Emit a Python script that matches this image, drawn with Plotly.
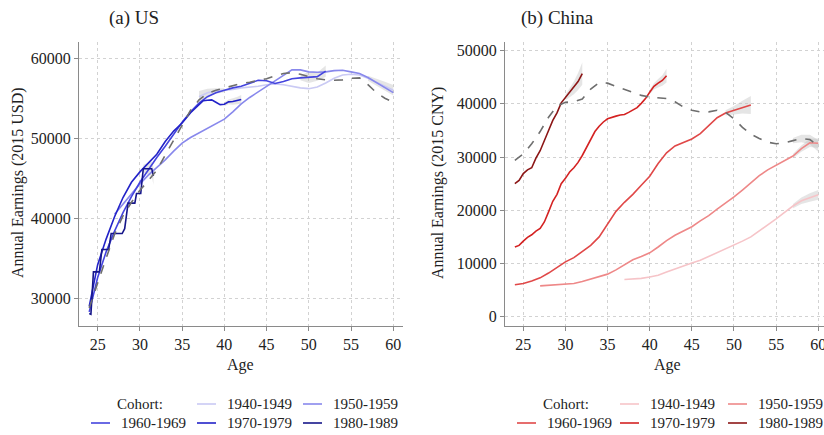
import plotly.graph_objects as go

W, H = 824, 435
FONT = "Liberation Serif"

def px(x):
    return x / W

def py(y):
    return 1 - y / H

# ---------------- Data: US (2015 USD) ----------------
cohorts = ["1940-1949", "1950-1959", "1960-1969", "1970-1979", "1980-1989"]

us_age_1940 = list(range(37, 61))
us_val_1940 = [55200, 55700, 55900, 56000, 56100, 56300, 56400, 56500, 56700, 56800, 56700, 56500,
               56300, 56200, 56400, 56900, 57500, 57900, 58000, 57900, 57500, 57000, 56500, 56000]

us_age_1950 = list(range(27, 61))
us_val_1950 = [40500, 41800, 43000, 44300, 45400, 46300, 47300, 48400, 49400, 50100, 50700, 51200,
               51800, 52400, 53300, 54300, 55100, 55800, 56400, 57100, 57900, 58550, 58550, 58300,
               58250, 58300, 58450, 58500, 58300, 58100, 57600, 57000, 56300, 55700]

us_age_1960 = list(range(24, 53))
us_val_1960 = [28300, 32600, 35800, 38400, 40700, 42700, 44500, 46100, 47600, 49000, 50500, 52000,
               53300, 54400, 55200, 55700, 56000, 56300, 56500, 56900, 57250, 57200, 56850, 57100,
               57450, 57550, 57600, 57700, 58400]

us_age_1970 = [24, 24.5, 25, 26, 27, 28, 29, 30, 31, 32, 33, 34, 35, 36, 37, 37.5, 38, 38.5, 39,
               39.5, 40, 40.5, 41, 41.5, 42]
us_val_1970 = [29000, 31800, 34200, 37400, 40200, 42600, 44500, 45800, 46900, 48000, 49600, 50900,
               51900, 53200, 54200, 54700, 54750, 54800, 54500, 54200, 54250, 54550, 54600, 54700,
               54850]

us_age_1980 = [24.0, 24.2, 24.5, 25.2, 25.5, 26.3, 26.6, 27.9, 28.2, 28.6, 29.4, 29.6, 30.1, 30.4,
               31.4, 31.6]
us_val_1980 = [28100, 28000, 33300, 33300, 36100, 36100, 38100, 38100, 38700, 41900, 41900, 43100,
               43100, 46200, 46200, 45300]

us_age_all = list(range(24, 61))
us_val_all = [28800, 32000, 35000, 38000, 40300, 42000, 43500, 44700, 46000, 47900, 49800, 51700,
              53500, 54800, 55600, 56000, 56300, 56600, 56850, 57000, 57200, 57450, 57800, 58100,
              58200, 58000, 57700, 57450, 57300, 57250, 57300, 57500, 57550, 56700, 55700, 55000,
              54500]

# ---------------- Data: China (2015 CNY) ----------------
cn_age_1940 = list(range(37, 61))
cn_val_1940 = [7000, 7050, 7200, 7450, 7800, 8400, 9000, 9600, 10100, 10600, 11300, 12000, 12700,
               13400, 14200, 15000, 16100, 17200, 18400, 19600, 20800, 21800, 22400, 22900]

cn_age_1950 = list(range(27, 61))
cn_val_1950 = [5800, 5900, 6000, 6100, 6250, 6600, 7100, 7500, 8000, 8800, 9800, 10700, 11300,
               12000, 13100, 14300, 15300, 16100, 16900, 18000, 19000, 20200, 21300, 22500, 23800,
               25200, 26500, 27600, 28500, 29300, 30200, 31600, 32700, 32600]

cn_age_1960 = list(range(24, 53))
cn_val_1960 = [6000, 6250, 6700, 7300, 8200, 9300, 10300, 11100, 12200, 13400, 15000, 17400, 19800,
               21500, 23000, 24700, 26400, 28800, 30800, 32100, 32700, 33400, 34400, 35900, 37400,
               38300, 38800, 39400, 39800]

cn_age_1970 = [24 + 0.5 * i for i in range(37)]
cn_val_1970 = [13100, 13400, 14200, 14900, 15400, 16100, 16600, 17800, 19700, 21700, 23000, 25000,
               26000, 27200, 28000, 29000, 30300, 31800, 33500, 34800, 35800, 36600, 37200, 37500,
               37700, 37900, 38000, 38400, 38800, 39300, 40100, 41000, 42200, 43300, 43900, 44400,
               45300]

cn_age_1980 = [24, 24.5, 25, 25.5, 26, 26.5, 27, 27.5, 28, 28.5, 29, 29.5, 30, 30.5, 31, 31.5, 32]
cn_val_1980 = [25000, 25600, 26900, 27600, 28000, 29800, 31200, 33300, 35000, 36900, 38300, 40200,
               41200, 42100, 43000, 44200, 45700]

cn_age_all = list(range(24, 61))
cn_val_all = [29400, 30600, 32500, 34800, 37500, 39600, 40300, 40400, 40900, 42800, 44000, 43900,
              43300, 42700, 42100, 41600, 41300, 41200, 41000, 40400, 39400, 38800, 38500, 38500,
              38800, 38400, 37200, 35600, 34300, 33500, 32800, 32500, 32700, 33100, 33500, 33300,
              32100]

# confidence band half-widths (visible tails only): ages, half-width
us_ci = {
    "1940-1949": ([37, 38, 39, 40], [700, 500, 350, 250]),
    "1940-1949b": ([57, 58, 59, 60], [300, 450, 550, 650]),
    "1960-1969": ([49, 50, 51, 52], [300, 700, 500, 700]),
    "1970-1979": ([40, 40.5, 41, 41.5, 42], [250, 300, 400, 450, 550]),
    "1980-1989": ([30.4, 31.4, 31.6], [500, 900, 1100]),
}
cn_ci = {
    "1940-1949": ([57, 58, 59, 60], [400, 600, 800, 900]),
    "1950-1959": ([57, 58, 59, 60], [400, 600, 800, 900]),
    "1960-1969": ([49, 50, 51, 52], [500, 800, 1200, 1700]),
    "1970-1979": ([40, 40.5, 41, 41.5, 42], [400, 600, 800, 1000, 1300]),
    "1980-1989": ([30, 30.5, 31, 31.5, 32], [500, 800, 1200, 1600, 2100]),
    "All": ([57, 58, 59, 60], [500, 700, 900, 1100]),
}

us_colors = ["#cacaf4", "#8888ec", "#4444de", "#2222c8", "#16168a"]
cn_colors = ["#f6c4c8", "#ee8888", "#e04848", "#d42222", "#8c1616"]

us_series = {
    "1940-1949": (us_age_1940, us_val_1940),
    "1950-1959": (us_age_1950, us_val_1950),
    "1960-1969": (us_age_1960, us_val_1960),
    "1970-1979": (us_age_1970, us_val_1970),
    "1980-1989": (us_age_1980, us_val_1980),
}
cn_series = {
    "1940-1949": (cn_age_1940, cn_val_1940),
    "1950-1959": (cn_age_1950, cn_val_1950),
    "1960-1969": (cn_age_1960, cn_val_1960),
    "1970-1979": (cn_age_1970, cn_val_1970),
    "1980-1989": (cn_age_1980, cn_val_1980),
}

fig = go.Figure()
BAND = "rgba(190,190,190,0.40)"


def add_bands(series, all_series, ci, xa, ya):
    for key, (ages, hws) in ci.items():
        name = key.rstrip("b") if key != "All" else "All"
        sa, sv = all_series if name == "All" else series[name]
        vals = [sv[sa.index(a)] for a in ages]
        lo = [v - h for v, h in zip(vals, hws)]
        hi = [v + h for v, h in zip(vals, hws)]
        fig.add_trace(go.Scatter(x=ages, y=lo, mode="lines", line=dict(width=0), xaxis=xa, yaxis=ya,
                                 showlegend=False, hoverinfo="skip"))
        fig.add_trace(go.Scatter(x=ages, y=hi, mode="lines", line=dict(width=0), fill="tonexty",
                                 fillcolor=BAND, xaxis=xa, yaxis=ya, showlegend=False,
                                 hoverinfo="skip"))


def add_panel(series, all_series, ci, colors, xa, ya):
    add_bands(series, all_series, ci, xa, ya)
    for c, col in zip(cohorts, colors):
        a, v = series[c]
        fig.add_trace(go.Scatter(x=a, y=v, mode="lines", name=c, line=dict(color=col, width=1.6),
                                 xaxis=xa, yaxis=ya, showlegend=False))
    fig.add_trace(go.Scatter(x=all_series[0], y=all_series[1], mode="lines", name="All",
                             line=dict(color="#6e6e6e", width=1.6, dash="dash"),
                             xaxis=xa, yaxis=ya, showlegend=False))


add_panel(us_series, (us_age_all, us_val_all), us_ci, us_colors, "x", "y")
add_panel(cn_series, (cn_age_all, cn_val_all), cn_ci, cn_colors, "x2", "y2")

axis_common = dict(
    showline=True, linecolor="#8a8a8a", linewidth=1.3, ticks="outside", ticklen=4,
    tickcolor="#8a8a8a", showgrid=True, gridcolor="#d2d2d2", griddash="dot", gridwidth=1,
    zeroline=False, tickfont=dict(family=FONT, size=16, color="#222"), automargin=False,
    ticklabeloverflow="allow",
)
xticks = [25, 30, 35, 40, 45, 50, 55, 60]

fig.update_layout(
    width=W, height=H, margin=dict(l=0, r=0, t=0, b=0),
    paper_bgcolor="white", plot_bgcolor="white", showlegend=False,
    xaxis=dict(domain=[px(79), px(403)], range=[22.79, 61.15], tickvals=xticks, **axis_common),
    yaxis=dict(domain=[py(326), py(41.7)], range=[26540, 62070],
               tickvals=[30000, 40000, 50000, 60000], tickformat="d", **axis_common),
    xaxis2=dict(domain=[px(505), 1.0], range=[22.83, 60.68], tickvals=xticks, anchor="y2",
                **axis_common),
    yaxis2=dict(domain=[py(326), py(41.7)], range=[-1750, 51690], anchor="x2",
                tickvals=[0, 10000, 20000, 30000, 40000, 50000], tickformat="d", **axis_common),
)

ann = []
tf = dict(family=FONT, color="#222")
# titles
ann.append(dict(x=px(107), y=py(18), text="(a) US", xanchor="left", yanchor="middle",
                font=dict(size=19, **tf)))
ann.append(dict(x=px(519), y=py(18), text="(b) China", xanchor="left", yanchor="middle",
                font=dict(size=19, **tf)))
# axis titles
ann.append(dict(x=px(241), y=py(365), text="Age", xanchor="center", yanchor="middle",
                font=dict(size=16, **tf)))
ann.append(dict(x=px(667), y=py(365), text="Age", xanchor="center", yanchor="middle",
                font=dict(size=16, **tf)))
ann.append(dict(x=px(18), y=py(183), text="Annual Earnings (2015 USD)", textangle=-90,
                xanchor="center", yanchor="middle", font=dict(size=16, **tf)))
ann.append(dict(x=px(438), y=py(183), text="Annual Earnings (2015 CNY)", textangle=-90,
                xanchor="center", yanchor="middle", font=dict(size=16, **tf)))

shapes = []


def legend(cohort_x, slots, colors):
    ann.append(dict(x=px(cohort_x), y=py(404), text="Cohort:", xanchor="center",
                    yanchor="middle", font=dict(size=15, **tf)))
    for (tx, ty), c, col in zip(slots, cohorts, colors):
        ann.append(dict(x=px(tx), y=py(ty), text=c, xanchor="left", yanchor="middle",
                        font=dict(size=15, **tf)))
        shapes.append(dict(type="line", xref="paper", yref="paper", x0=px(tx - 28),
                           x1=px(tx - 9), y0=py(ty), y1=py(ty), line=dict(color=col, width=1.6)))


legend(140, [(225, 404), (331, 404), (119, 423), (225, 423), (331, 423)], us_colors)
legend(566, [(648, 404), (756, 404), (545, 423), (648, 423), (756, 423)], cn_colors)

for a in ann:
    a.update(xref="paper", yref="paper", showarrow=False)
fig.update_layout(annotations=ann, shapes=shapes)

fig.write_html(
    "out.html",
    config={"displayModeBar": False},
    post_script="document.body.style.margin='0';document.body.style.padding='0';"
                "document.body.style.overflow='hidden';",
)
